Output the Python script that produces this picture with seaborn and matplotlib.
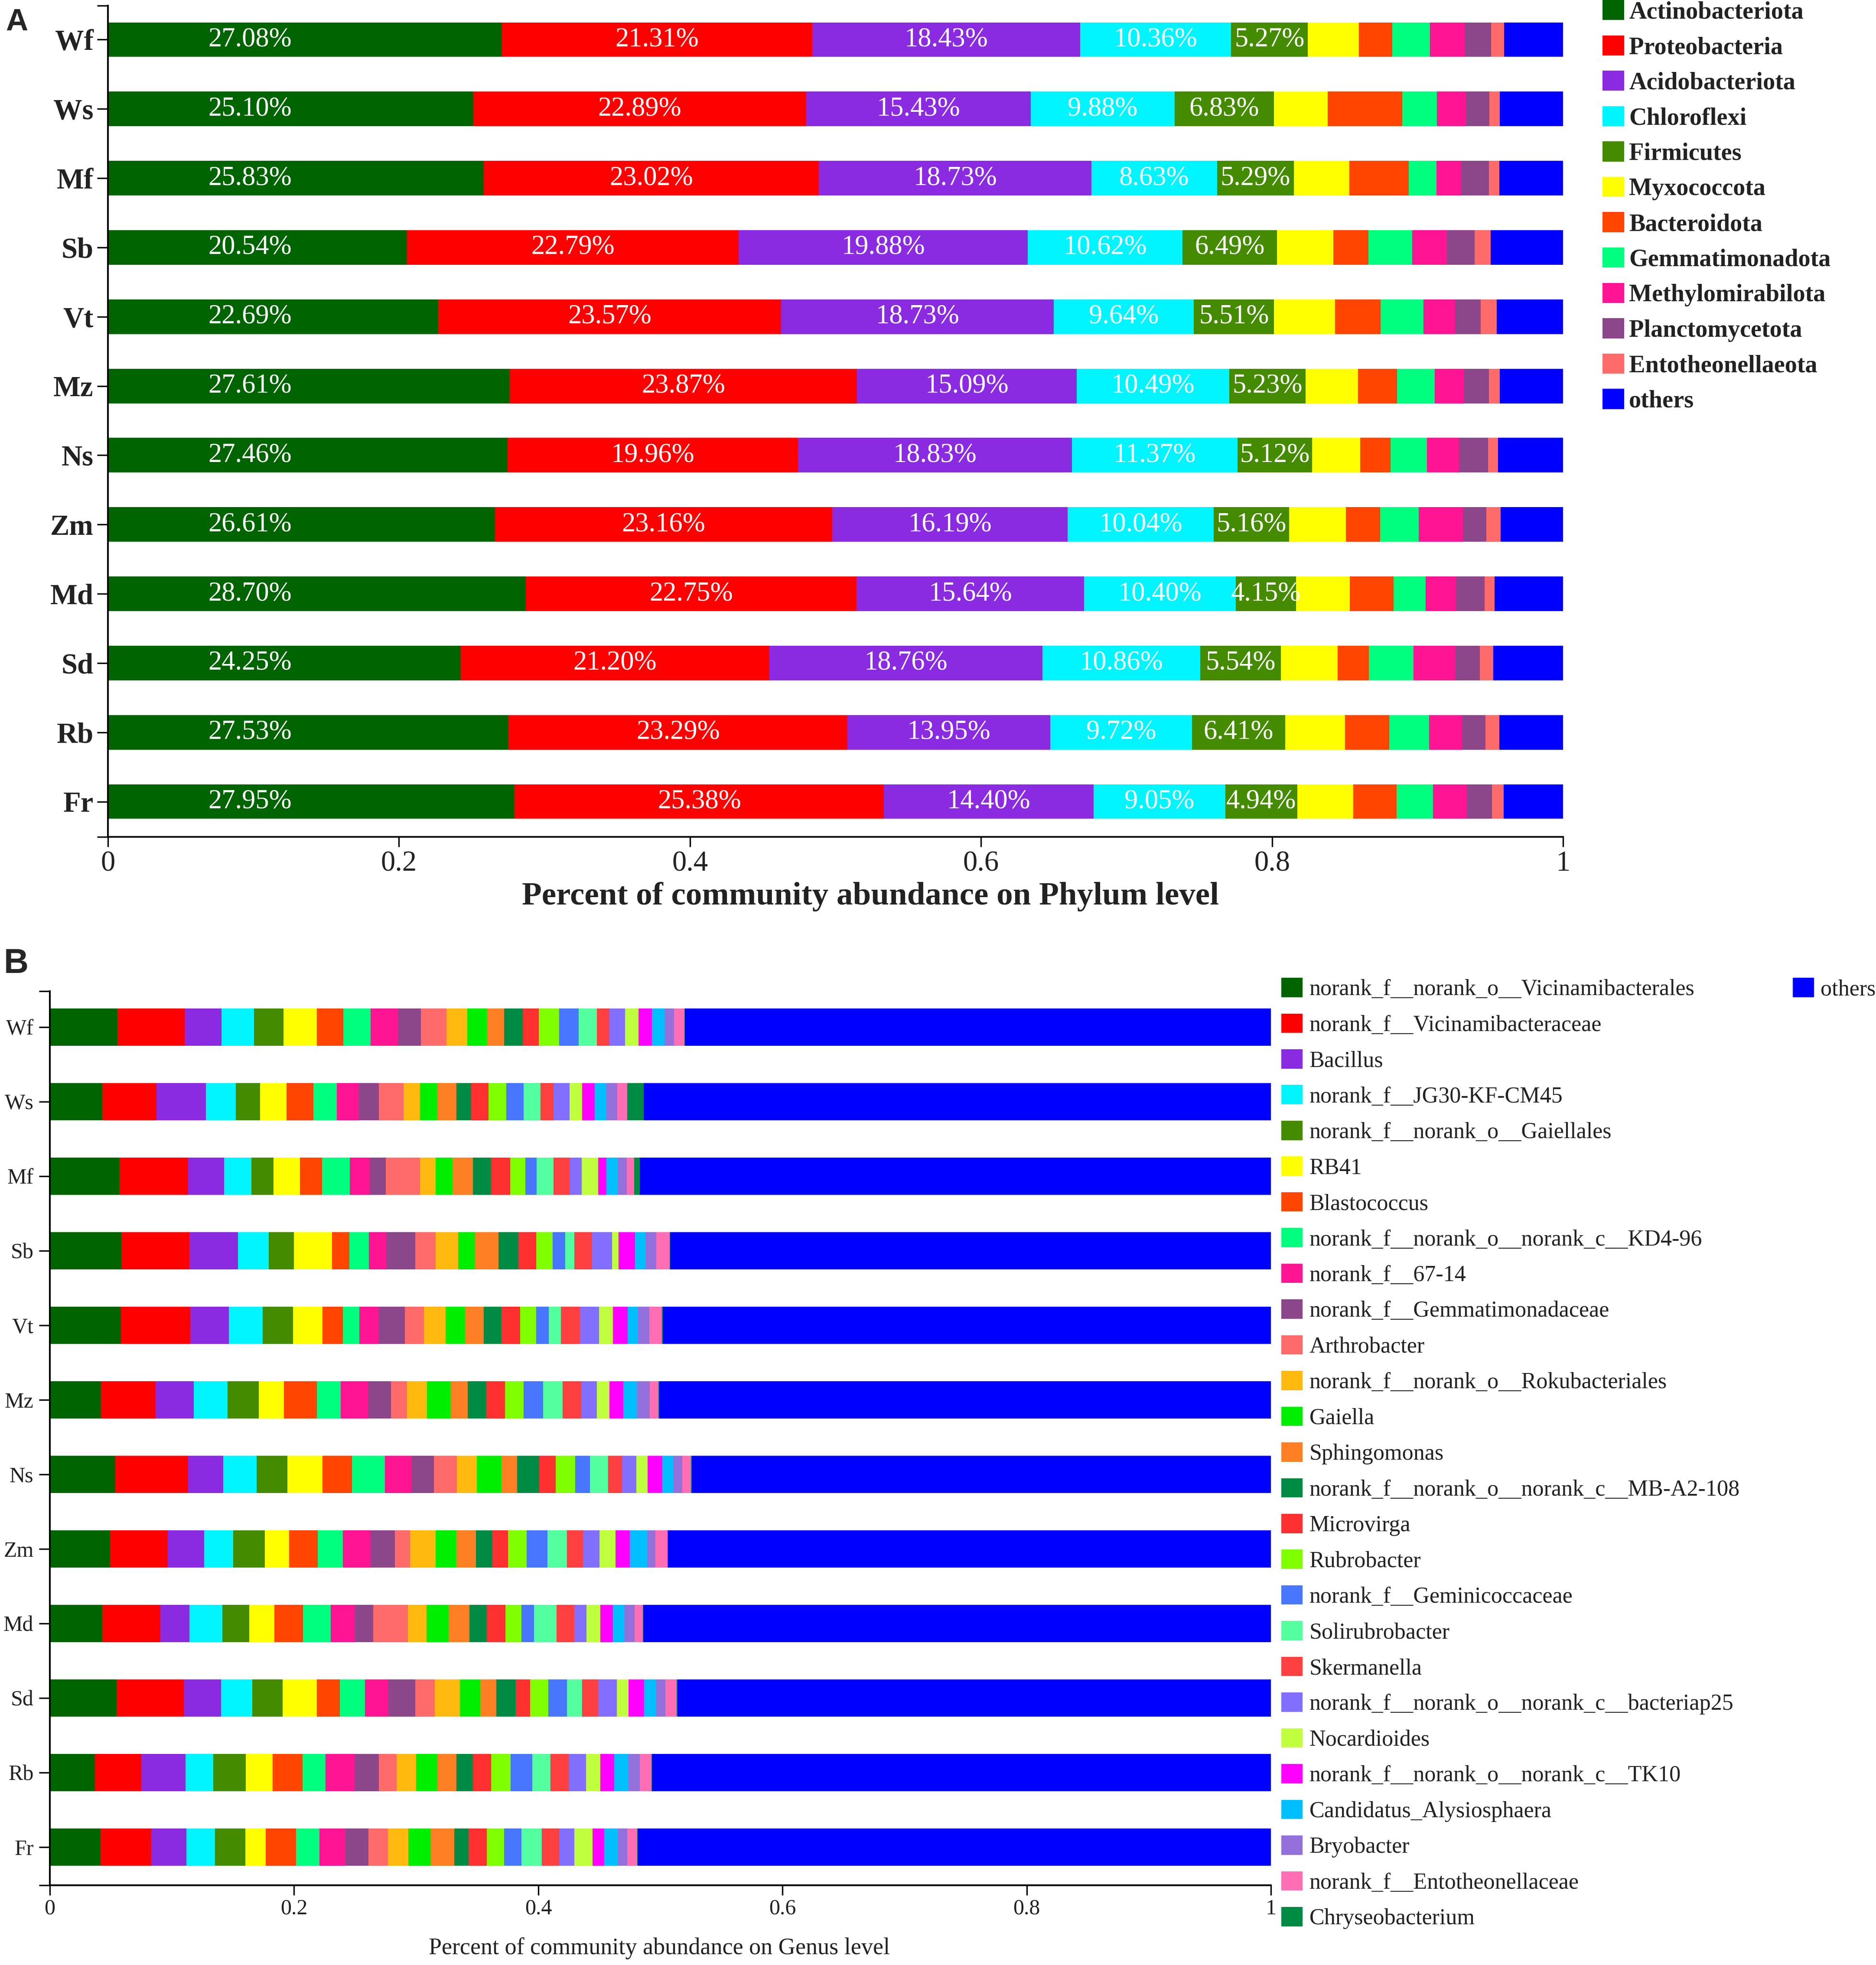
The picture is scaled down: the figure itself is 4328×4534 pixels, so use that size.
import numpy as np
import matplotlib.pyplot as plt
import matplotlib.patches as mpatches
import seaborn as sns

samples = ["Wf", "Ws", "Mf", "Sb", "Vt", "Mz", "Ns", "Zm", "Md", "Sd", "Rb", "Fr"]

# ---- phylum level (% of reads, same sample order as above) ----
actinobacteriota = [27.08, 25.10, 25.83, 20.54, 22.69, 27.61, 27.46, 26.61, 28.70, 24.25, 27.53, 27.95]
proteobacteria = [21.31, 22.89, 23.02, 22.79, 23.57, 23.87, 19.96, 23.16, 22.75, 21.20, 23.29, 25.38]
acidobacteriota = [18.43, 15.43, 18.73, 19.88, 18.73, 15.09, 18.83, 16.19, 15.64, 18.76, 13.95, 14.40]
chloroflexi = [10.36, 9.88, 8.63, 10.62, 9.64, 10.49, 11.37, 10.04, 10.40, 10.86, 9.72, 9.05]
firmicutes = [5.27, 6.83, 5.29, 6.49, 5.51, 5.23, 5.12, 5.16, 4.15, 5.54, 6.41, 4.94]
myxococcota = [3.50, 3.70, 3.80, 3.90, 4.20, 3.60, 3.30, 3.90, 3.70, 3.90, 4.10, 3.85]
bacteroidota = [2.30, 5.10, 4.10, 2.40, 3.10, 2.70, 2.10, 2.35, 3.00, 2.15, 3.05, 3.00]
gemmatimonadota = [2.60, 2.40, 1.90, 3.00, 2.95, 2.60, 2.50, 2.65, 2.20, 3.05, 2.75, 2.50]
methylomirabilota = [2.40, 2.00, 1.70, 2.40, 2.20, 2.00, 2.20, 3.05, 2.10, 2.90, 2.25, 2.30]
planctomycetota = [1.80, 1.60, 1.90, 1.90, 1.75, 1.70, 2.00, 1.60, 1.95, 1.65, 1.60, 1.75]
entotheonellaeota = [0.90, 0.70, 0.70, 1.10, 1.10, 0.75, 0.70, 1.00, 0.70, 0.95, 0.95, 0.80]
phylum_others = [4.05, 4.37, 4.40, 4.98, 4.56, 4.36, 4.46, 4.29, 4.71, 4.79, 4.40, 4.08]

phylum_names = ["Actinobacteriota", "Proteobacteria", "Acidobacteriota", "Chloroflexi",
                "Firmicutes", "Myxococcota", "Bacteroidota", "Gemmatimonadota",
                "Methylomirabilota", "Planctomycetota", "Entotheonellaeota", "others"]
phylum_colors = ["#006400", "#FF0000", "#8A2BE2", "#00F5FF", "#458B00", "#FFFF00",
                 "#FF4500", "#00FF7F", "#FF1493", "#8B4789", "#FF6A6A", "#0000FF"]

# ---- genus level ----
g_vicinamibacterales = [5.55, 4.29, 5.72, 5.86, 5.82, 4.19, 5.38, 4.94, 4.29, 5.48, 3.71, 4.15]
g_vicinamibacteraceae = [5.48, 4.46, 5.62, 5.58, 5.69, 4.46, 5.96, 4.73, 4.77, 5.48, 3.78, 4.15]
g_bacillus = [3.03, 4.05, 2.93, 3.98, 3.17, 3.13, 2.86, 2.96, 2.38, 3.06, 3.64, 2.89]
g_jg30 = [2.66, 2.42, 2.25, 2.52, 2.76, 2.79, 2.76, 2.38, 2.69, 2.55, 2.25, 2.35]
g_gaiellales = [2.42, 2.01, 1.80, 2.04, 2.49, 2.55, 2.52, 2.59, 2.21, 2.49, 2.66, 2.49]
g_rb41 = [2.72, 2.14, 2.18, 3.13, 2.42, 2.04, 2.86, 2.01, 2.04, 2.79, 2.21, 1.67]
g_blastococcus = [2.18, 2.21, 1.80, 1.43, 1.67, 2.72, 2.42, 2.32, 2.35, 1.91, 2.45, 2.49]
g_kd4 = [2.25, 1.91, 2.28, 1.60, 1.33, 1.94, 2.72, 2.08, 2.28, 2.04, 1.87, 1.91]
g_6714 = [2.25, 1.84, 1.63, 1.40, 1.60, 2.25, 2.18, 2.28, 1.97, 1.91, 2.38, 2.14]
g_gemmatimonadaceae = [1.87, 1.63, 1.33, 2.38, 2.14, 1.87, 1.84, 1.97, 1.50, 2.21, 2.01, 1.87]
g_arthrobacter = [2.08, 2.01, 2.79, 1.67, 1.57, 1.33, 1.87, 1.26, 2.86, 1.60, 1.43, 1.60]
g_rokubacteriales = [1.70, 1.36, 1.29, 1.87, 1.77, 1.60, 1.63, 2.08, 1.53, 2.04, 1.60, 1.67]
g_gaiella = [1.63, 1.43, 1.36, 1.36, 1.60, 1.97, 2.04, 1.70, 1.80, 1.70, 1.74, 1.84]
g_sphingomonas = [1.40, 1.53, 1.67, 1.94, 1.53, 1.40, 1.29, 1.60, 1.70, 1.29, 1.57, 1.91]
g_mba2108 = [1.53, 1.23, 1.50, 1.63, 1.46, 1.50, 1.80, 1.36, 1.43, 1.60, 1.36, 1.19]
g_microvirga = [1.29, 1.43, 1.57, 1.46, 1.53, 1.53, 1.36, 1.29, 1.50, 1.16, 1.50, 1.50]
g_rubrobacter = [1.70, 1.43, 1.23, 1.33, 1.29, 1.53, 1.57, 1.50, 1.33, 1.50, 1.57, 1.40]
g_geminicoccaceae = [1.57, 1.43, 0.92, 1.02, 1.06, 1.60, 1.23, 1.70, 1.02, 1.53, 1.77, 1.43]
g_solirubrobacter = [1.50, 1.40, 1.40, 0.75, 0.99, 1.60, 1.50, 1.63, 1.84, 1.26, 1.50, 1.67]
g_skermanella = [1.02, 1.06, 1.36, 1.46, 1.57, 1.53, 1.12, 1.29, 1.46, 1.29, 1.50, 1.43]
g_bacteriap25 = [1.29, 1.29, 0.95, 1.63, 1.53, 1.29, 1.16, 1.36, 0.99, 1.53, 1.43, 1.23]
g_nocardioides = [1.09, 1.06, 1.36, 0.54, 1.16, 1.02, 0.95, 1.33, 1.16, 0.95, 1.16, 1.50]
g_tk10 = [1.12, 1.02, 0.65, 1.36, 1.19, 1.12, 1.19, 1.16, 1.02, 1.29, 1.12, 0.95]
g_alysiosphaera = [1.02, 0.95, 0.92, 0.85, 0.85, 1.16, 0.89, 1.40, 0.95, 0.95, 1.19, 1.12]
g_bryobacter = [0.78, 0.89, 0.75, 0.89, 0.92, 1.02, 0.75, 0.68, 0.82, 0.78, 0.92, 0.75]
g_entotheonellaceae = [0.85, 0.82, 0.61, 1.09, 1.06, 0.72, 0.72, 0.99, 0.68, 0.95, 0.95, 0.82]
g_chryseobacterium = [0.05, 1.33, 0.48, 0.05, 0.05, 0.05, 0.05, 0.05, 0.05, 0.05, 0.05, 0.05]
genus_others = [48.0, 51.4, 51.7, 49.2, 49.85, 50.1, 47.5, 49.4, 51.4, 48.6, 50.7, 51.9]

genus_names = ["norank_f__norank_o__Vicinamibacterales", "norank_f__Vicinamibacteraceae",
               "Bacillus", "norank_f__JG30-KF-CM45", "norank_f__norank_o__Gaiellales", "RB41",
               "Blastococcus", "norank_f__norank_o__norank_c__KD4-96", "norank_f__67-14",
               "norank_f__Gemmatimonadaceae", "Arthrobacter", "norank_f__norank_o__Rokubacteriales",
               "Gaiella", "Sphingomonas", "norank_f__norank_o__norank_c__MB-A2-108", "Microvirga",
               "Rubrobacter", "norank_f__Geminicoccaceae", "Solirubrobacter", "Skermanella",
               "norank_f__norank_o__norank_c__bacteriap25", "Nocardioides",
               "norank_f__norank_o__norank_c__TK10", "Candidatus_Alysiosphaera", "Bryobacter",
               "norank_f__Entotheonellaceae", "Chryseobacterium", "others"]
genus_colors = ["#006400", "#FF0000", "#8A2BE2", "#00F5FF", "#458B00", "#FFFF00",
                "#FF4500", "#00FF7F", "#FF1493", "#8B4789", "#FF6A6A", "#FFB90F",
                "#00EE00", "#FF7F24", "#008B45", "#FF3030", "#7FFF00", "#4876FF",
                "#54FF9F", "#FF4040", "#836FFF", "#C0FF3E", "#FF00FF", "#00BFFF",
                "#9370DB", "#FF6EB4", "#008B45", "#0000FF"]

SERIF = ["Liberation Serif", "DejaVu Serif"]
SANS = ["Liberation Sans", "DejaVu Sans"]
INK = "#222222"

sns.set_theme(style="ticks")
plt.rcParams["font.family"] = SERIF


def stacked(ax, values, colors):
    """Stacked horizontal bars: overlay cumulative totals, longest first."""
    vals = np.array(values, dtype=float)
    frac = vals / vals.sum(axis=0)
    cum = frac.cumsum(axis=0)
    for i in range(len(colors) - 1, -1, -1):
        sns.barplot(x=cum[i], y=samples, orient="h", color=colors[i], saturation=1,
                    width=0.5, errorbar=None, linewidth=0, ax=ax)
    return frac, cum


def style_axis(ax, ylim, tick_size, bold):
    ax.set_xlim(0, 1)
    ax.set_ylim(*ylim)
    ax.set_xticks([0, 0.2, 0.4, 0.6, 0.8, 1])
    ax.set_xticklabels(["0", "0.2", "0.4", "0.6", "0.8", "1"], fontsize=tick_size,
                       family=SERIF)
    ax.set_yticks(range(len(samples)))
    ax.set_yticklabels(samples, fontsize=tick_size, family=SERIF,
                       fontweight="bold" if bold else "normal")
    ax.set_yticks(list(ylim), minor=True)
    ax.set_ylabel("")
    sns.despine(ax=ax)
    for side in ("left", "bottom"):
        ax.spines[side].set_linewidth(0.95)
        ax.spines[side].set_color("black")
    ax.tick_params(axis="both", which="both", direction="out", color="black",
                   width=0.8, labelcolor=INK)
    ax.tick_params(axis="x", length=5.5, pad=2)
    ax.tick_params(axis="y", which="both", length=6, pad=2)


fig = plt.figure(figsize=(4328 / 300, 4534 / 300), dpi=300)

# ---------------- panel A : phylum ----------------
axA = fig.add_axes([0.05753, 0.5741, 0.7757, 0.4230])
phylum_vals = [actinobacteriota, proteobacteria, acidobacteriota, chloroflexi, firmicutes,
               myxococcota, bacteroidota, gemmatimonadota, methylomirabilota,
               planctomycetota, entotheonellaeota, phylum_others]
fracA, cumA = stacked(axA, phylum_vals, phylum_colors)
style_axis(axA, (11.51, -0.49), 16, True)

# value labels on the five main phyla; the first column sits at a fixed spot in the original
for i in range(5):
    for j in range(len(samples)):
        xpos = 0.0975 if i == 0 else cumA[i, j] - fracA[i, j] / 2
        axA.text(xpos, j, f"{phylum_vals[i][j]:.2f}%", ha="center", va="center",
                 color="white", fontsize=15, family=SERIF)

axA.set_xlabel("Percent of community abundance on Phylum level", fontsize=18,
               fontweight="bold", color=INK, family=SERIF)
axA.xaxis.set_label_coords(0.524, -0.054)
axA.xaxis.label.set_va("top")

handlesA = [mpatches.Patch(color=c, linewidth=0) for c in phylum_colors]
fig.legend(handlesA, phylum_names, loc="upper left", bbox_to_anchor=(0.8542, 1.0),
           frameon=False, prop={"family": SERIF, "weight": "bold", "size": 13.5},
           handlelength=0.89, handleheight=0.89, handletextpad=0.2,
           labelspacing=0.48, borderpad=0, borderaxespad=0, labelcolor=INK)

# ---------------- panel B : genus ----------------
axB = fig.add_axes([0.02657, 0.04058, 0.6509, 0.4550])
genus_vals = [g_vicinamibacterales, g_vicinamibacteraceae, g_bacillus, g_jg30, g_gaiellales,
              g_rb41, g_blastococcus, g_kd4, g_6714, g_gemmatimonadaceae, g_arthrobacter,
              g_rokubacteriales, g_gaiella, g_sphingomonas, g_mba2108, g_microvirga,
              g_rubrobacter, g_geminicoccaceae, g_solirubrobacter, g_skermanella,
              g_bacteriap25, g_nocardioides, g_tk10, g_alysiosphaera, g_bryobacter,
              g_entotheonellaceae, g_chryseobacterium, genus_others]
stacked(axB, genus_vals, genus_colors)
style_axis(axB, (11.51, -0.48), 12, False)
axB.tick_params(axis="y", which="both", pad=3)

axB.set_xlabel("Percent of community abundance on Genus level", fontsize=13, color=INK,
               family=SERIF)
axB.xaxis.set_label_coords(0.499, -0.058)
axB.xaxis.label.set_va("top")

handlesB = [mpatches.Patch(color=c, linewidth=0) for c in genus_colors]
fig.legend(handlesB[:-1], genus_names[:-1], loc="upper left", bbox_to_anchor=(0.683, 0.5024),
           frameon=False, prop={"family": SERIF, "size": 12.5},
           handlelength=0.94, handleheight=0.94, handletextpad=0.3,
           labelspacing=0.60, borderpad=0, borderaxespad=0, labelcolor=INK)
fig.legend(handlesB[-1:], genus_names[-1:], loc="upper left", bbox_to_anchor=(0.9556, 0.5024),
           frameon=False, prop={"family": SERIF, "size": 12.5},
           handlelength=0.94, handleheight=0.94, handletextpad=0.3,
           borderpad=0, borderaxespad=0, labelcolor=INK)

# panel letters
fig.text(0.003, 0.9958, "A", fontsize=17, fontweight="bold", family=SANS, va="top", ha="left")
fig.text(0.002, 0.5176, "B", fontsize=19, fontweight="bold", family=SANS, va="top", ha="left")

fig.savefig("out.png", dpi=300)
plt.close(fig)
